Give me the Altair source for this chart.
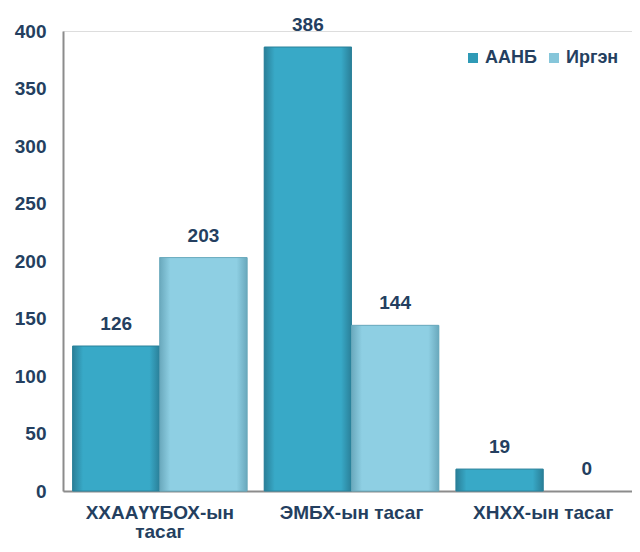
import altair as alt
import pandas as pd

categories = ["ХХААҮҮБОХ-ын тасаг", "ЭМБХ-ын тасаг", "ХНХХ-ын тасаг"]
series = ["ААНБ", "Иргэн"]
aanb = [126, 386, 19]
irgen = [203, 144, 0]

rows = []
for c, a, i in zip(categories, aanb, irgen):
    rows.append({"cat": c, "series": series[0], "value": a})
    rows.append({"cat": c, "series": series[1], "value": i})
df = pd.DataFrame(rows)

TXT = "#243f60"
FONT = "Liberation Sans"

x = alt.X("cat:N", sort=categories, title=None,
          scale=alt.Scale(paddingInner=0.09, paddingOuter=0.05, range=[0, 577]),
          axis=alt.Axis(labelAngle=0, labelFont=FONT, labelFontSize=19, labelFontWeight="bold",
                        labelColor=TXT, labelPadding=12, ticks=False, domainColor="#8c8c8c",
                        domainWidth=2, labelLineHeight=19,
                        labelExpr="datum.value == 'ХХААҮҮБОХ-ын тасаг' ? ['ХХААҮҮБОХ-ын', 'тасаг'] : datum.value"))
y = alt.Y("value:Q", title=None, scale=alt.Scale(domain=[0, 400]),
          axis=alt.Axis(values=list(range(0, 401, 50)), grid=False, ticks=False, labelFont=FONT,
                        labelFontSize=19, labelFontWeight="bold", labelColor=TXT, labelPadding=17,
                        domainColor="#8c8c8c", domainWidth=2))
xo = alt.XOffset("series:N", sort=series)

base = alt.Chart(df)
pos = base.transform_filter(alt.datum.value > 0)

bars = pos.mark_bar(stroke="#5d9fb3", strokeWidth=0.8).encode(
    x=x, y=y, xOffset=xo,
    color=alt.Color("series:N", sort=series, title=None,
                    scale=alt.Scale(domain=series, range=["#2f9ab6", "#86c6da"]),
                    legend=alt.Legend(orient="none", legendX=401, legendY=18, direction="horizontal",
                                      symbolType="square", symbolSize=100, symbolStrokeWidth=0,
                                      labelFont=FONT, labelFontSize=18, labelFontWeight="bold",
                                      labelColor=TXT, columnPadding=8, labelOffset=3)),
)

def grad(c_edge, c_mid):
    return alt.Gradient(gradient="linear", x1=0, x2=1, y1=0, y2=0,
                        stops=[alt.GradientStop(color=c_edge, offset=0),
                               alt.GradientStop(color=c_mid, offset=0.12),
                               alt.GradientStop(color=c_mid, offset=0.88),
                               alt.GradientStop(color=c_edge, offset=1)])

g1 = pos.transform_filter(alt.datum.series == "ААНБ").mark_bar(
    color=grad("#2a7f98", "#38a9c7"), stroke="#2a7f98", strokeWidth=0.8).encode(x=x, y=y, xOffset=xo)
g2 = pos.transform_filter(alt.datum.series == "Иргэн").mark_bar(
    color=grad("#6aa9bd", "#8ecfe3"), stroke="#6aa9bd", strokeWidth=0.8).encode(x=x, y=y, xOffset=xo)

labels = base.mark_text(dy=-22, font=FONT, fontSize=19, fontWeight="bold", color=TXT).encode(
    x=x, y=y, xOffset=xo, text="value:Q")

chart = alt.layer(bars, g1, g2, labels).properties(
    width=569, height=460, autosize=alt.AutoSizeParams(type="none"),
    padding={"left": 55, "top": 23, "right": 0, "bottom": 53},
).configure_view(stroke=None).configure(background="white")

chart.save("out.html", embed_options={"renderer": "svg", "actions": False})
